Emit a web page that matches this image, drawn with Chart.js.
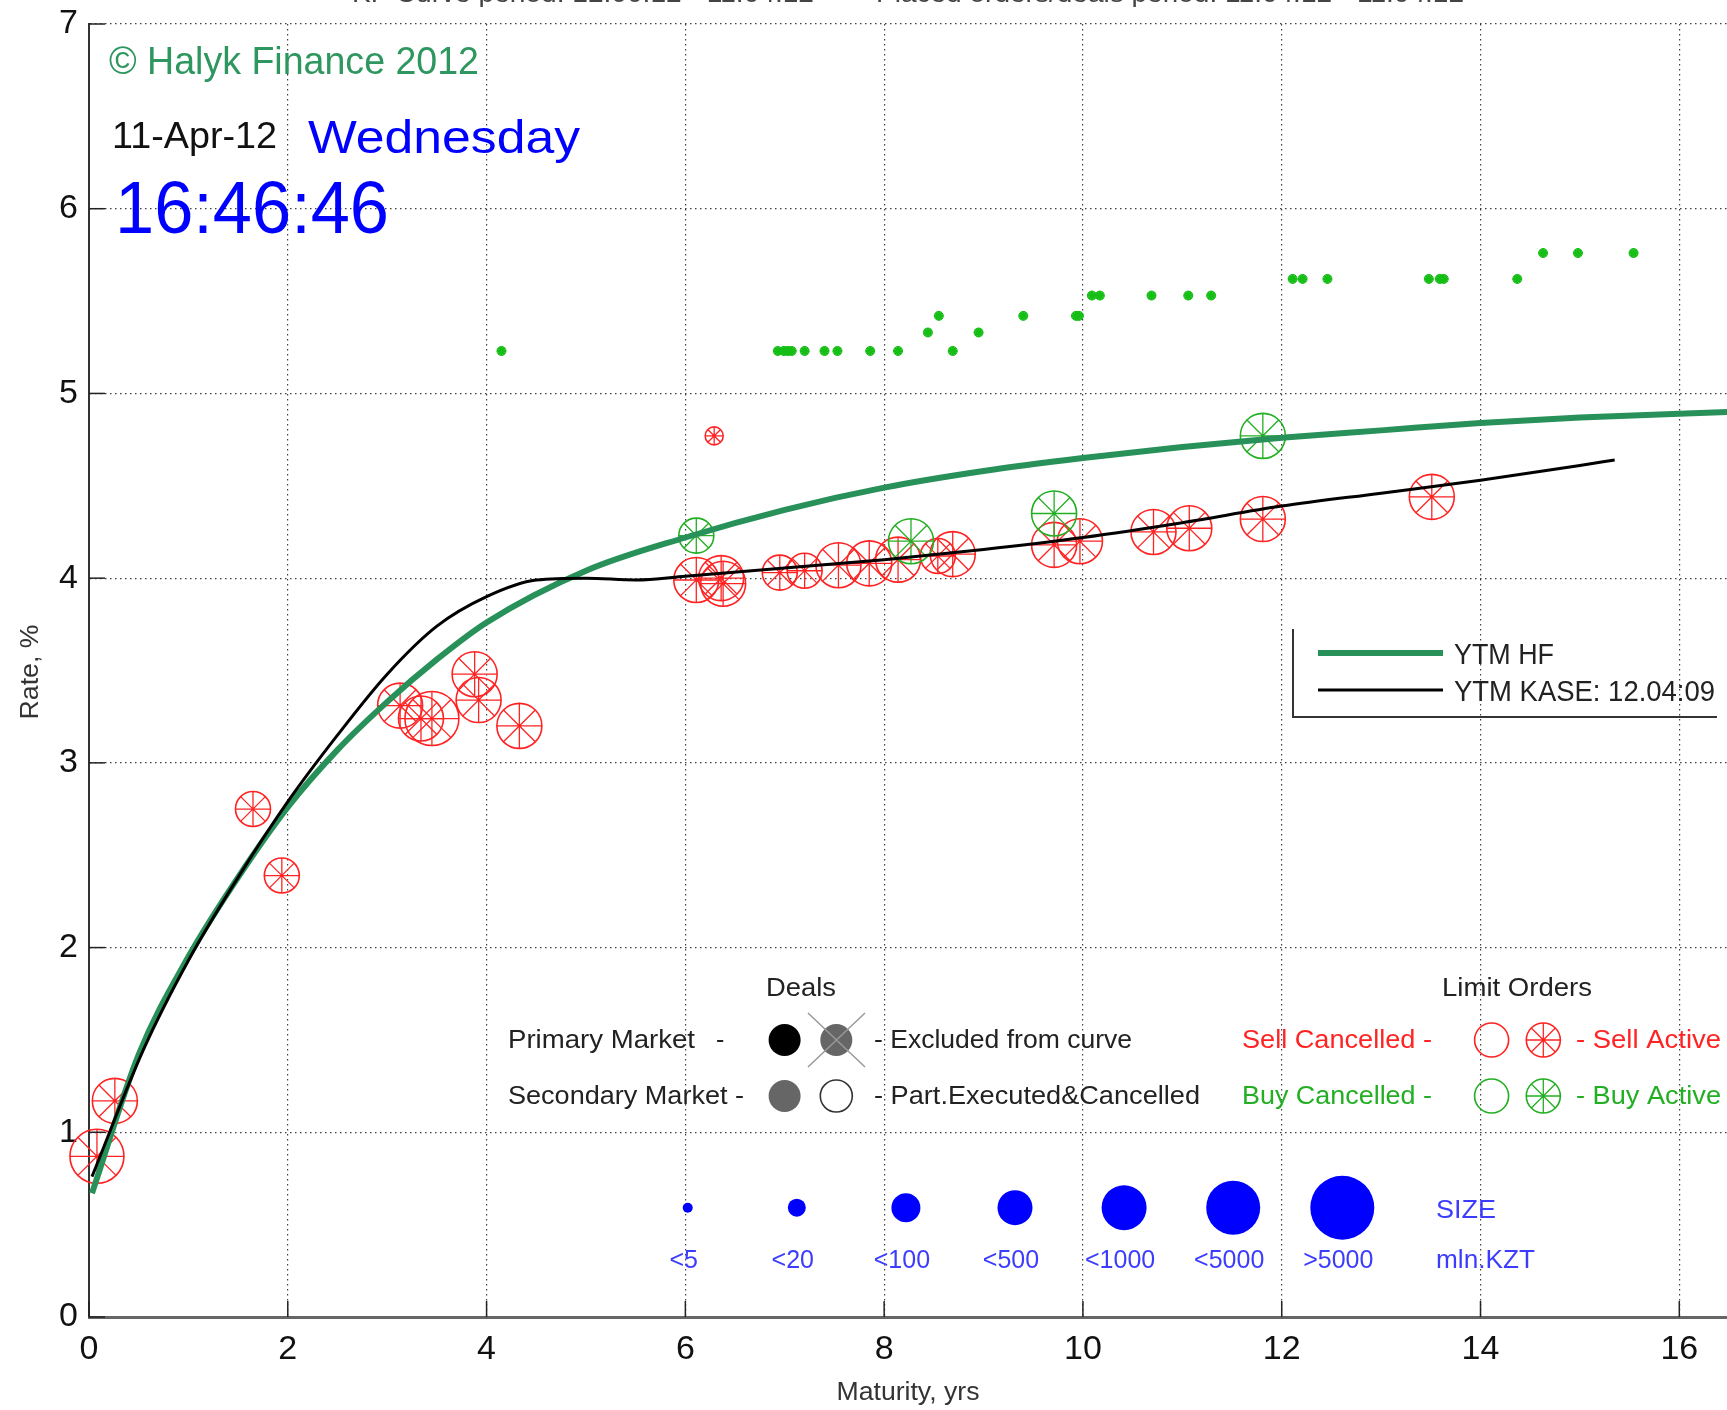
<!DOCTYPE html>
<html>
<head>
<meta charset="utf-8">
<script src="https://cdn.jsdelivr.net/npm/chart.js@4.4.1/dist/chart.umd.min.js"></script>
<style>
  html, body { margin: 0; padding: 0; background: #fff; }
  canvas { display: block; }
</style>
</head>
<body>
<canvas id="curveChart" width="1727" height="1410"></canvas>
<script>
// Eixos
const X_TICKS = [0, 2, 4, 6, 8, 10, 12, 14, 16];
const Y_TICKS = [0, 1, 2, 3, 4, 5, 6, 7];

// Curva YTM HF
const hfMaturity = [0.03, 0.5, 1.0, 1.5, 2.0, 2.5, 3.0, 3.5, 4.0, 5.0, 6.0, 7.0, 8.0, 9.0, 10, 11, 12, 13, 14, 15, 16, 16.5];
const hfRate     = [0.67, 1.42, 1.95, 2.38, 2.76, 3.07, 3.33, 3.56, 3.76, 4.04, 4.22, 4.37, 4.49, 4.58, 4.65, 4.71, 4.76, 4.80, 4.84, 4.87, 4.89, 4.90];

// Curva YTM KASE
const kaseMaturity = [0.03, 0.55, 1.0, 1.5, 2.0, 2.5, 3.0, 3.5, 4.0, 4.5, 5.0, 5.5, 6.0, 7.0, 8.0, 9.0, 10, 11, 12, 13, 14, 15, 15.35];
const kaseRate     = [0.76, 1.45, 1.93, 2.38, 2.79, 3.15, 3.48, 3.74, 3.90, 3.99, 4.00, 3.99, 4.01, 4.055, 4.10, 4.155, 4.22, 4.30, 4.39, 4.46, 4.53, 4.61, 4.64];

// Pequenos pontos verdes (ordens de compra, <5)
const dotMaturity = [4.15, 6.93, 6.99, 7.03, 7.07, 7.20, 7.40, 7.53, 7.86, 8.14, 8.44, 8.55, 8.69, 8.95, 9.40, 9.93, 9.96, 10.09, 10.17, 10.69, 11.06, 11.29, 12.11, 12.21, 12.46, 13.48, 13.59, 13.63, 14.37, 14.63, 14.98, 15.54];
const dotRate     = [5.23, 5.23, 5.23, 5.23, 5.23, 5.23, 5.23, 5.23, 5.23, 5.23, 5.33, 5.42, 5.23, 5.33, 5.42, 5.42, 5.42, 5.53, 5.53, 5.53, 5.53, 5.53, 5.62, 5.62, 5.62, 5.62, 5.62, 5.62, 5.62, 5.76, 5.76, 5.76];

// Sell Active
const sellMaturity = [0.08, 0.26, 1.65, 1.94, 3.13, 3.34, 3.45, 3.88, 3.92, 4.33, 6.29, 6.11, 6.36, 6.38, 6.95, 7.20, 7.54, 7.85, 8.14, 8.54, 8.69, 9.71, 9.97, 10.71, 11.07, 11.81, 13.51];
const sellRate     = [0.87, 1.17, 2.75, 2.39, 3.31, 3.24, 3.24, 3.48, 3.34, 3.20, 4.77, 3.99, 4.00, 3.97, 4.03, 4.04, 4.07, 4.08, 4.10, 4.12, 4.13, 4.18, 4.20, 4.25, 4.27, 4.32, 4.44];
const sellSize     = [5, 4, 3, 3, 4, 4, 5, 4, 4, 4, 1, 4, 4, 4, 3, 3, 4, 4, 4, 3, 4, 4, 4, 4, 4, 4, 4];

// Buy Active
const buyMaturity = [6.11, 8.27, 9.71, 11.81];
const buyRate     = [4.23, 4.20, 4.35, 4.77];
const buySize     = [3, 4, 4, 4];

// Classes de tamanho (mln KZT)
const SIZE_LABELS = ['<5', '<20', '<100', '<500', '<1000', '<5000', '>5000'];
const SIZE_RADIUS = [5, 9, 14.5, 17.5, 22.5, 27, 32];

const FONT = '"Liberation Sans", Arial, Helvetica, sans-serif';
const RED = 'rgb(255,35,35)';
const BUY_GREEN = 'rgb(35,175,35)';
const DOT_GREEN = 'rgb(20,190,20)';
const HF_GREEN = 'rgb(40,145,90)';
const BLUE = '#0000ff';

function pts(xs, ys) {
  return xs.map((x, i) => ({ x: x, y: ys[i] }));
}

function markerSets(xs, ys, sizes, color) {
  const data = pts(xs, ys);
  const r = sizes.map(c => SIZE_RADIUS[c]);
  return [
    { data: data, pointStyle: 'circle', pointRadius: r, pointBorderColor: color,
      pointBackgroundColor: 'rgba(0,0,0,0)', pointBorderWidth: 1.6, clip: false },
    { data: data, pointStyle: 'star', pointRadius: r, pointBorderColor: color,
      pointBorderWidth: 1.3, clip: false }
  ];
}

// texto ajustado a uma largura
function drawText(ctx, s, x, y, size, color, width, align) {
  ctx.save();
  ctx.font = size + 'px ' + FONT;
  ctx.fillStyle = color;
  ctx.textBaseline = 'alphabetic';
  const w = ctx.measureText(s).width;
  const sx = width ? width / w : 1;
  let x0 = x;
  if (align === 'center') x0 = x - w * sx / 2;
  else if (align === 'right') x0 = x - w * sx;
  ctx.translate(x0, y);
  ctx.scale(sx, 1);
  ctx.fillText(s, 0, 0);
  ctx.restore();
}

function drawOrderMarker(ctx, x, y, r, color, withStar) {
  ctx.save();
  ctx.strokeStyle = color;
  ctx.lineWidth = 1.6;
  ctx.beginPath();
  ctx.arc(x, y, r, 0, Math.PI * 2);
  ctx.stroke();
  if (withStar) {
    ctx.lineWidth = 1.3;
    ctx.beginPath();
    for (let k = 0; k < 4; k++) {
      const a = k * Math.PI / 4;
      ctx.moveTo(x - Math.cos(a) * r, y - Math.sin(a) * r);
      ctx.lineTo(x + Math.cos(a) * r, y + Math.sin(a) * r);
    }
    ctx.stroke();
  }
  ctx.restore();
}

function dot(ctx, x, y, r, fill, stroke) {
  ctx.save();
  ctx.beginPath();
  ctx.arc(x, y, r, 0, Math.PI * 2);
  if (fill) { ctx.fillStyle = fill; ctx.fill(); }
  if (stroke) { ctx.strokeStyle = stroke; ctx.lineWidth = 1.6; ctx.stroke(); }
  ctx.restore();
}

const annotations = {
  id: 'annotations',
  afterDraw(chart) {
    const ctx = chart.ctx;
    const xs = chart.scales.x, ys = chart.scales.y;

    // ticks para dentro (estilo MATLAB)
    ctx.save();
    ctx.strokeStyle = '#222';
    ctx.lineWidth = 1.5;
    X_TICKS.forEach(v => {
      const px = xs.getPixelForValue(v);
      ctx.beginPath(); ctx.moveTo(px, ys.bottom); ctx.lineTo(px, ys.bottom - 16); ctx.stroke();
    });
    Y_TICKS.forEach(v => {
      const py = ys.getPixelForValue(v);
      ctx.beginPath(); ctx.moveTo(xs.left, py); ctx.lineTo(xs.left + 16, py); ctx.stroke();
    });
    ctx.restore();

    // título cortado no topo
    drawText(ctx, 'KF Curve period: 12.00.12 - 11.04.12', 352, 2, 26, '#444', 462);
    drawText(ctx, 'Placed orders/deals period: 11.04.12 - 11.04.12', 876, 2, 26, '#444', 588);

    // títulos dos eixos
    ctx.save();
    ctx.translate(27, 672);
    ctx.rotate(-Math.PI / 2);
    drawText(ctx, 'Rate, %', 0, 11, 26, '#333', 95, 'center');
    ctx.restore();
    drawText(ctx, 'Maturity, yrs', 908, 1400, 25, '#333', 143, 'center');

    // cabeçalho
    drawText(ctx, '\u00A9 Halyk Finance 2012', 109, 74, 38, 'rgb(46,150,95)', 370);
    drawText(ctx, '11-Apr-12', 112, 148, 36, '#111', 165);
    drawText(ctx, 'Wednesday', 308, 153, 46, BLUE, 272);
    drawText(ctx, '16:46:46', 115, 233, 74, BLUE, 274);

    // legenda das curvas
    ctx.save();
    ctx.strokeStyle = '#333';
    ctx.lineWidth = 2;
    ctx.beginPath();
    ctx.moveTo(1293, 629); ctx.lineTo(1293, 717); ctx.lineTo(1717, 717);
    ctx.stroke();
    ctx.lineWidth = 6; ctx.strokeStyle = HF_GREEN;
    ctx.beginPath(); ctx.moveTo(1318, 653); ctx.lineTo(1443, 653); ctx.stroke();
    ctx.lineWidth = 3; ctx.strokeStyle = '#000';
    ctx.beginPath(); ctx.moveTo(1318, 690); ctx.lineTo(1443, 690); ctx.stroke();
    ctx.restore();
    drawText(ctx, 'YTM HF', 1454, 664, 29, '#222', 100);
    drawText(ctx, 'YTM KASE: 12.04:09', 1454, 701, 29, '#222', 261);

    // legenda: Deals
    const r1 = 1048, r2 = 1104;
    drawText(ctx, 'Deals', 801, 996, 25, '#222', 70, 'center');
    drawText(ctx, 'Primary Market', 508, r1, 25, '#222', 187);
    drawText(ctx, '-', 716, r1, 25, '#222');
    drawText(ctx, 'Secondary Market -', 508, r2, 25, '#222', 236);
    dot(ctx, 784.6, 1040, 16, '#000');
    dot(ctx, 836.3, 1040, 16, '#666');
    ctx.save();
    ctx.strokeStyle = '#999'; ctx.lineWidth = 1.5;
    ctx.beginPath();
    ctx.moveTo(808, 1013); ctx.lineTo(865, 1067);
    ctx.moveTo(865, 1013); ctx.lineTo(808, 1067);
    ctx.stroke();
    ctx.restore();
    drawText(ctx, '- Excluded from curve', 874, r1, 25, '#222', 258);
    dot(ctx, 784.6, 1096, 16, '#666');
    dot(ctx, 836.3, 1096, 16, '#fff', '#333');
    drawText(ctx, '- Part.Executed&Cancelled', 874, r2, 25, '#222', 326);

    // legenda: Limit Orders
    drawText(ctx, 'Limit Orders', 1517, 996, 25, '#222', 150, 'center');
    drawText(ctx, 'Sell Cancelled -', 1242, r1, 25, RED, 190);
    drawText(ctx, 'Buy Cancelled -', 1242, r2, 25, BUY_GREEN, 190);
    drawOrderMarker(ctx, 1491.6, 1040, 17, RED, false);
    drawOrderMarker(ctx, 1543.3, 1040, 17, RED, true);
    drawOrderMarker(ctx, 1491.6, 1096, 17, BUY_GREEN, false);
    drawOrderMarker(ctx, 1543.3, 1096, 17, BUY_GREEN, true);
    drawText(ctx, '- Sell Active', 1576, r1, 25, RED, 145);
    drawText(ctx, '- Buy Active', 1576, r2, 25, BUY_GREEN, 145);

    // legenda de tamanhos
    SIZE_LABELS.forEach((lab, i) => {
      const cx = 687.7 + i * 109.1;
      dot(ctx, cx, 1207.7, SIZE_RADIUS[i], BLUE);
      drawText(ctx, lab, cx - 4, 1268, 25, 'rgb(60,60,255)', null, 'center');
    });
    drawText(ctx, 'SIZE', 1436, 1218, 25, 'rgb(60,60,255)', 60);
    drawText(ctx, 'mln.KZT', 1436, 1268, 25, 'rgb(60,60,255)', 99);
  }
};

const ctx = document.getElementById('curveChart').getContext('2d');

new Chart(ctx, {
  type: 'scatter',
  data: {
    datasets: [
      { data: pts(kaseMaturity, kaseRate), showLine: true, borderColor: '#000', borderWidth: 3,
        pointRadius: 0, cubicInterpolationMode: 'monotone' },
      { data: pts(hfMaturity, hfRate), showLine: true, borderColor: HF_GREEN, borderWidth: 6,
        pointRadius: 0, cubicInterpolationMode: 'monotone' },
      ...markerSets(buyMaturity, buyRate, buySize, BUY_GREEN),
      ...markerSets(sellMaturity, sellRate, sellSize, RED),
      { data: pts(dotMaturity, dotRate), pointStyle: 'star', pointRadius: 4.5,
        pointBorderColor: DOT_GREEN, pointBorderWidth: 2 },
      { data: pts(dotMaturity, dotRate), pointStyle: 'circle', pointRadius: 4.5,
        pointBackgroundColor: 'rgba(20,190,20,0.75)', pointBorderColor: DOT_GREEN, pointBorderWidth: 1 }
    ]
  },
  options: {
    responsive: false,
    animation: false,
    devicePixelRatio: 1,
    layout: { autoPadding: false, padding: { top: 24, right: 0, bottom: 0, left: 0 } },
    plugins: {
      legend: { display: false },
      tooltip: { enabled: false }
    },
    scales: {
      x: {
        type: 'linear',
        min: 0,
        max: 16.48,
        afterBuildTicks: s => { s.ticks = X_TICKS.map(v => ({ value: v })); },
        afterFit: s => { s.height = 93; s.paddingLeft = 0; s.paddingRight = 0; },
        grid: { color: 'rgba(30,30,30,0.85)', lineWidth: 1.2, drawTicks: false },
        border: { color: '#666', width: 3, dash: [1.5, 3.5] },
        ticks: { padding: 12, color: '#111', font: { family: FONT, size: 34 } }
      },
      y: {
        min: 0,
        max: 7,
        afterBuildTicks: s => { s.ticks = Y_TICKS.map(v => ({ value: v })); },
        afterFit: s => { s.width = 89; s.paddingTop = 0; s.paddingBottom = 0; },
        grid: { color: 'rgba(30,30,30,0.85)', lineWidth: 1.2, drawTicks: false },
        border: { color: '#333', width: 2, dash: [1.5, 3.5] },
        ticks: { padding: 11, color: '#111', font: { family: FONT, size: 34 } }
      }
    }
  },
  plugins: [annotations]
});
</script>
</body>
</html>
